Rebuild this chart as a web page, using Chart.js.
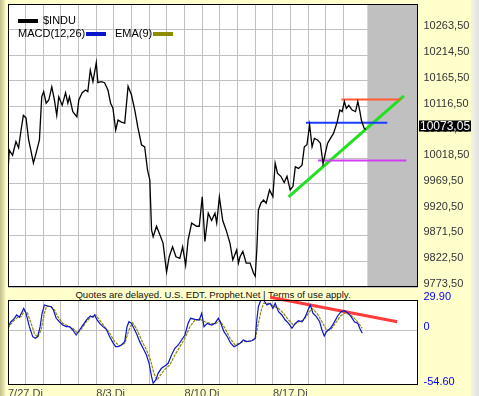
<!DOCTYPE html>
<html>
<head>
<meta charset="utf-8">
<script src="https://cdn.jsdelivr.net/npm/chart.js@4.4.0/dist/chart.umd.min.js"></script>
<style>
  html, body { margin: 0; padding: 0; }
  body { width: 479px; height: 396px; background: #ffffcc; position: relative; overflow: hidden;
         font-family: 'Liberation Sans', Arial, sans-serif; }
  #leftEdge { position: absolute; left: 0; top: 0; width: 6px; height: 396px;
              background: linear-gradient(to right, #c4c08c, #e2deaa 60%, #ffffcc); }
  #rightEdge { position: absolute; right: 0; top: 0; width: 8px; height: 396px;
               background: linear-gradient(to right, #f4f4e4, #e2e2e2); }
  canvas { position: absolute; left: 0; z-index: 1; }
  #priceChart { top: 0; }
  #macdChart { top: 288px; }
  #notice { position: absolute; left: 8px; width: 410px; top: 288px; height: 12px; line-height: 13px;
            text-align: center; font-size: 9.6px; color: #111; z-index: 0; }
  .lg { position: absolute; z-index: 2; font-size: 11px; line-height: 13px; color: #000; white-space: nowrap; }
  .sw { position: absolute; z-index: 2; width: 20px; height: 4px; }
</style>
</head>
<body>
<div id="leftEdge"></div>
<div id="rightEdge"></div>
<div id="notice">Quotes are delayed. U.S. EDT. Prophet.Net | Terms of use apply.</div>
<canvas id="priceChart" width="479" height="288"></canvas>
<canvas id="macdChart" width="479" height="108"></canvas>
<div class="sw" style="left:18px;top:19px;background:#000"></div>
<div class="lg" style="left:43px;top:14px">$INDU</div>
<div class="lg" style="left:18px;top:27px">MACD(12,26)</div>
<div class="sw" style="left:86px;top:32px;background:#0a14c8"></div>
<div class="lg" style="left:115px;top:27px">EMA(9)</div>
<div class="sw" style="left:153px;top:32px;background:#8c8c00"></div>
<script>
// trading days since 7/27 (intraday as fractions)
const priceDays = [0, 0.07, 0.26, 0.45, 0.6, 0.74, 0.87, 1.02, 1.17, 1.31, 1.44, 1.59, 1.78, 1.91, 2.02, 2.16, 2.31, 2.48, 2.63, 2.76,
  2.875, 3.07, 3.26, 3.39, 3.48, 3.67, 3.9, 4.01, 4.2, 4.39, 4.52, 4.66, 4.81, 5.0, 5.09, 5.28, 5.47, 5.66, 5.81, 5.94,
  6.1, 6.23, 6.42, 6.61, 6.8, 6.99, 7.18, 7.36, 7.56, 7.74, 7.9, 8.03, 8.13, 8.22, 8.41, 8.6, 8.78, 8.98, 9.13, 9.32,
  9.51, 9.73, 9.89, 10.06, 10.2, 10.4, 10.68, 10.83, 11.0, 11.15, 11.34, 11.53, 11.72, 11.82, 11.97, 12.16, 12.35, 12.57, 12.73, 12.95,
  13.05, 13.14, 13.3, 13.49, 13.71, 13.9, 14.0, 14.09, 14.18, 14.32, 14.47, 14.62, 14.81, 15.0, 15.13, 15.26, 15.45, 15.64, 15.8, 15.98,
  16.14, 16.27, 16.45, 16.65, 16.78, 16.93, 17.08, 17.22, 17.35, 17.53, 17.69, 17.84, 17.97, 18.1, 18.26, 18.44, 18.64, 18.79, 18.92, 19.05,
  19.16, 19.3, 19.49, 19.68, 19.81, 19.93, 20.01, 20.16, 20.25];
const priceValues = [9992, 10034, 10024, 10050, 10038, 10072, 10100, 10095, 10053, 10031, 10009, 10028, 10053, 10135, 10145, 10123, 10129, 10154, 10129, 10100,
  10135, 10119, 10143, 10123, 10135, 10107, 10097, 10129, 10143, 10148, 10145, 10186, 10164, 10200, 10162, 10164, 10162, 10148, 10123, 10114,
  10072, 10091, 10087, 10085, 10155, 10139, 10110, 10076, 10044, 10040, 9996, 9977, 9882, 9869, 9889, 9873, 9857, 9802, 9831, 9850,
  9831, 9828, 9850, 9815, 9863, 9895, 9889, 9889, 9945, 9860, 9914, 9900, 9914, 9895, 9945, 9900, 9882, 9857, 9825, 9844,
  9819, 9831, 9841, 9819, 9819, 9800, 9794, 9844, 9920, 9933, 9939, 9933, 9958, 9945, 10009, 9990, 9984, 9972, 9984, 9958,
  9965, 10002, 9999, 10005, 10040, 10044, 10082, 10040, 10056, 10053, 10047, 10008, 10028, 10047, 10056, 10066, 10087, 10110, 10107, 10126,
  10113, 10119, 10110, 10107, 10126, 10107, 10091, 10076, 10073.05];
const lastPrice = 10073.05;

const macdDays = [0, 0.17, 0.36, 0.49, 0.64, 0.8, 0.89, 1.02, 1.21, 1.4, 1.55, 1.68, 1.82, 1.93, 2.06, 2.25, 2.44, 2.57, 2.73, 2.91,
  3.1, 3.3, 3.48, 3.67, 3.86, 4.05, 4.24, 4.47, 4.66, 4.81, 4.9, 5.03, 5.19, 5.38, 5.57, 5.76, 5.94, 6.1, 6.23, 6.42,
  6.61, 6.74, 6.85, 6.99, 7.18, 7.31, 7.46, 7.65, 7.84, 7.99, 8.13, 8.22, 8.37, 8.5, 8.69, 8.88, 9.07, 9.26, 9.45, 9.64,
  9.83, 10.02, 10.2, 10.34, 10.59, 10.83, 10.97, 11.1, 11.28, 11.53, 11.72, 11.91, 12.05, 12.23, 12.42, 12.61, 12.8, 12.99, 13.14, 13.33,
  13.52, 13.81, 14.0, 14.09, 14.18, 14.32, 14.51, 14.66, 14.85, 15.0, 15.13, 15.32, 15.51, 15.7, 15.89, 16.08, 16.27, 16.45, 16.65, 16.84,
  16.99, 17.12, 17.27, 17.46, 17.65, 17.78, 17.91, 18.03, 18.26, 18.44, 18.67, 18.86, 19.05, 19.24, 19.43, 19.62, 19.81, 19.92, 20.06];
const macdValues = [3.4, 8.3, 11.7, 15.0, 12.7, 18.3, 21.6, 16.7, 3.4, -6.6, -8.2, -6.6, 3.4, 16.7, 24.9, 23.9, 23.2, 20.0, 11.7, 8.3,
  5.0, 3.4, 3.4, 0.1, -4.9, 0.1, 5.0, 10.7, 14.0, 12.7, 15.0, 10.7, 6.7, 3.4, 0.8, -6.6, -12.5, -16.5, -16.5, -14.8,
  -11.5, 3.4, 8.3, 6.7, 0.1, -4.9, -11.5, -18.1, -24.8, -33.0, -46.3, -52.9, -49.6, -43.0, -38.0, -35.7, -33.0, -24.8, -18.1, -14.8,
  -9.9, -4.9, 6.7, 11.7, 10.7, 10.0, 16.7, 3.4, 6.7, 5.0, 6.7, 11.7, 6.7, -1.6, -6.6, -13.1, -16.5, -14.8, -13.1, -9.9,
  -11.5, -10.6, -8.2, 10.0, 23.2, 29.9, 29.2, 24.9, 26.6, 21.6, 26.6, 18.3, 15.0, 10.0, 6.7, 1.8, 6.7, 9.3, 8.3, 13.3,
  20.0, 24.9, 16.7, 13.3, 8.3, 0.1, -5.9, -1.6, 1.8, 6.7, 14.0, 18.3, 19.3, 17.3, 13.3, 8.3, 6.7, 1.8, -3.2];

const emaDays = [0, 0.26, 0.55, 0.74, 0.93, 1.11, 1.31, 1.49, 1.68, 1.88, 2.06, 2.19, 2.44, 2.63, 2.82, 3.1, 3.39, 3.67, 3.95, 4.15,
  4.43, 4.72, 4.96, 5.19, 5.47, 5.76, 6.04, 6.32, 6.61, 6.85, 7.05, 7.27, 7.56, 7.84, 8.07, 8.26, 8.44, 8.64, 8.88, 9.16,
  9.45, 9.73, 10.02, 10.3, 10.59, 10.87, 11.15, 11.44, 11.72, 12.01, 12.29, 12.57, 12.86, 13.1, 13.33, 13.71, 14.0, 14.18, 14.32, 14.47,
  14.75, 15.03, 15.32, 15.6, 15.89, 16.17, 16.45, 16.74, 17.02, 17.22, 17.5, 17.78, 18.03, 18.26, 18.54, 18.83, 19.11, 19.39, 19.68, 19.93, 20.06];
const emaValues = [1.8, 8.3, 12.7, 13.3, 19.3, 16.7, 6.7, -3.2, -7.2, 0.1, 16.7, 23.9, 23.2, 20.0, 13.3, 6.7, 4.0, 1.8, -3.2, 0.8,
  8.3, 13.3, 15.0, 10.0, 3.4, -3.2, -11.5, -15.8, -13.1, 0.1, 7.3, 1.8, -9.9, -19.8, -29.7, -42.9, -49.6, -44.6, -39.0, -34.7,
  -24.8, -16.5, -8.2, 3.4, 10.0, 10.7, 8.3, 6.7, 6.0, 9.3, 1.8, -8.2, -14.8, -13.1, -11.5, -10.9, -9.2, 6.7, 18.3, 26.6,
  26.6, 23.9, 21.6, 16.7, 10.0, 5.0, 8.3, 10.0, 16.7, 21.6, 16.7, 8.3, 0.1, 0.1, 6.7, 14.0, 17.3, 15.0, 10.7, 5.0, 1.8];

// hand-drawn study lines
const orangeDays = [18.88, 22.23];
const orangeValues = [10130, 10130];
const blueDays = [16.875, 21.48];
const blueValues = [10086, 10086];
const magentaDays = [17.56, 22.56];
const magentaValues = [10014, 10014];
const greenDays = [15.89, 22.42];
const greenValues = [9945, 10137];
const redDays = [14.85, 22.04];
const redValues = [32.6, 8.3];

const greyStart = 20.35;
const gridDays = [0, 1, 2, 3, 4, 5, 6, 7, 8, 9, 10, 11, 12, 13, 14, 15, 16, 17, 18, 19];
const labelDays = [0, 5, 10, 15];
const dayLabels = ['7/27.Di', '8/3.Di', '8/10.Di', '8/17.Di'];
const priceTicks = [9773.5, 9822.5, 9871.5, 9920.5, 9969.5, 10018.5, 10067.5, 10116.5, 10165.5, 10214.5, 10263.5];
const macdTicks = [-54.6, 0, 29.9];

Chart.defaults.font.family = "'Liberation Sans', Arial, sans-serif";
Chart.defaults.font.size = 11;

const pts = (xs, ys) => xs.map((x, i) => ({ x: x, y: ys[i] }));
const line = (xs, ys, color, width, extra) => Object.assign({
  data: pts(xs, ys), borderColor: color, borderWidth: width, pointRadius: 0, tension: 0, fill: false
}, extra || {});
const noPad = s => { s.paddingTop = 0; s.paddingBottom = 0; s.paddingLeft = 0; s.paddingRight = 0; };

const panelBg = {
  id: 'panelBg',
  beforeDraw(chart) {
    const a = chart.chartArea, ctx = chart.ctx;
    ctx.save();
    ctx.fillStyle = '#ffffff';
    ctx.fillRect(a.left, a.top, a.right - a.left, a.bottom - a.top);
    ctx.restore();
  },
  afterDraw(chart) {
    const a = chart.chartArea, ctx = chart.ctx;
    ctx.save();
    ctx.strokeStyle = '#000';
    ctx.lineWidth = 1;
    ctx.strokeRect(Math.round(a.left) + 0.5, Math.round(a.top) + 0.5,
      Math.round(a.right) - Math.round(a.left) - 1, Math.round(a.bottom) - Math.round(a.top) - 1);
    ctx.restore();
  }
};

const greyZone = {
  id: 'greyZone',
  beforeDatasetsDraw(chart) {
    const a = chart.chartArea, ctx = chart.ctx;
    const x0 = chart.scales.x.getPixelForValue(greyStart);
    ctx.save();
    ctx.fillStyle = '#c0c0c0';
    ctx.fillRect(x0, a.top, a.right - x0, a.bottom - a.top);
    ctx.restore();
  }
};

const lastPriceTag = {
  id: 'lastPriceTag',
  afterDraw(chart) {
    const a = chart.chartArea, ctx = chart.ctx;
    const y = Math.round(chart.scales.y.getPixelForValue(lastPrice) - 3);
    ctx.save();
    ctx.fillStyle = '#000';
    ctx.fillRect(a.right + 1.5, y - 5.5, 52, 11);
    ctx.fillStyle = '#fff';
    ctx.font = "12px 'Liberation Sans', Arial, sans-serif";
    ctx.textBaseline = 'middle';
    ctx.fillText(lastPrice.toFixed(2).replace('.', ','), a.right + 2.5, y + 0.5);
    ctx.restore();
  }
};

new Chart(document.getElementById('priceChart'), {
  type: 'line',
  data: {
    datasets: [
      line(priceDays, priceValues, '#000000', 1.3),
      line(orangeDays, orangeValues, '#ff5a32', 2),
      line(blueDays, blueValues, '#1a3cff', 2),
      line(magentaDays, magentaValues, '#d040f0', 2),
      line(greenDays, greenValues, '#22e022', 3)
    ]
  },
  options: {
    responsive: false,
    animation: false,
    devicePixelRatio: 1,
    layout: { padding: { left: 8, top: 4, right: 0, bottom: 1 } },
    plugins: { legend: { display: false }, tooltip: { enabled: false } },
    scales: {
      x: {
        type: 'linear', min: 0, max: 23.19,
        afterBuildTicks: s => { s.ticks = gridDays.map(v => ({ value: v })); },
        afterFit: s => { s.height = 0; noPad(s); },
        ticks: { display: false },
        grid: { color: '#c0c0c0', drawTicks: false },
        border: { display: false }
      },
      y: {
        position: 'right', min: 9773.5, max: 10311.6,
        afterBuildTicks: s => { s.ticks = priceTicks.map(v => ({ value: v })); },
        afterFit: s => { s.width = 61.5; noPad(s); },
        ticks: {
          color: '#333', padding: 6, labelOffset: -3,
          callback: v => v.toFixed(2).replace('.', ',')
        },
        grid: { color: '#c0c0c0', drawTicks: false },
        border: { display: false }
      }
    }
  },
  plugins: [panelBg, greyZone, lastPriceTag]
});

new Chart(document.getElementById('macdChart'), {
  type: 'line',
  data: {
    datasets: [
      line(macdDays, macdValues, '#0a14c8', 1.2),
      line(emaDays, emaValues, '#8c8c00', 1.2, { borderDash: [3, 1] }),
      line(redDays, redValues, '#ff3b3b', 3, { clip: false })
    ]
  },
  options: {
    responsive: false,
    animation: false,
    devicePixelRatio: 1,
    layout: { padding: { left: 8, top: 12, right: 0, bottom: 0 } },
    plugins: { legend: { display: false }, tooltip: { enabled: false } },
    scales: {
      x: {
        type: 'linear', min: 0, max: 23.19,
        afterBuildTicks: s => { s.ticks = gridDays.map(v => ({ value: v })); },
        afterFit: s => { s.height = 11; noPad(s); },
        ticks: {
          color: '#444', padding: 2, align: 'start', autoSkip: false, maxRotation: 0,
          callback: v => { const i = labelDays.indexOf(v); return i >= 0 ? dayLabels[i] : ''; }
        },
        grid: { color: '#c0c0c0', drawTicks: false },
        border: { display: false }
      },
      y: {
        position: 'right', min: -54.6, max: 29.9,
        afterBuildTicks: s => { s.ticks = macdTicks.map(v => ({ value: v })); },
        afterFit: s => { s.width = 61.5; noPad(s); },
        ticks: {
          color: '#0000ff', padding: 6, labelOffset: -3,
          callback: v => v === 0 ? '0' : v.toFixed(2)
        },
        grid: { color: c => c.tick && c.tick.value === 0 ? '#c0c0c0' : 'rgba(0,0,0,0)', drawTicks: false },
        border: { display: false }
      }
    }
  },
  plugins: [panelBg]
});
</script>
</body>
</html>
